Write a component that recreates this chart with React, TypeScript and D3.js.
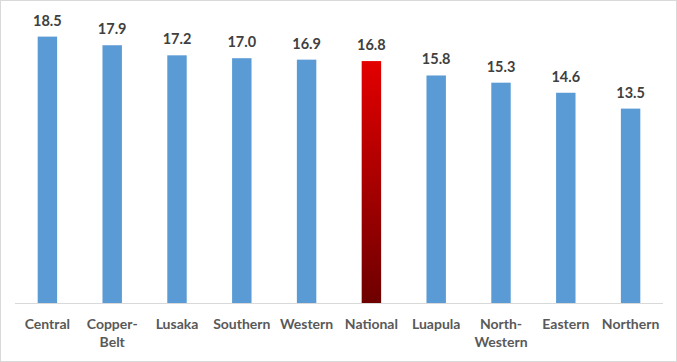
import React from "react";
import * as d3 from "d3";

const categories: string[][] = [
  ["Central"], ["Copper-", "Belt"], ["Lusaka"], ["Southern"], ["Western"],
  ["National"], ["Luapula"], ["North-", "Western"], ["Eastern"], ["Northern"],
];
const values: number[] = [18.5, 17.9, 17.2, 17.0, 16.9, 16.8, 15.8, 15.3, 14.6, 13.5];
const highlightIndex = 5;

const W = 677, H = 362;
const left = 15, right = 663, baseY = 303, topY = 15;

export default function App() {
  const x = d3.scaleBand<number>().domain(values.map((_, i) => i)).range([left, right]).paddingInner(0.7).paddingOuter(0.35);
  const y = d3.scaleLinear().domain([0, 20]).range([baseY, topY]);
  const font = "Lato, 'Open Sans', sans-serif";
  return (
    <svg width={W} height={H} style={{ position: "absolute", left: 0, top: 0 }}>
      <defs>
        <linearGradient id="natGrad" x1="0" y1="0" x2="0" y2="1">
          <stop offset="0%" stopColor="#e30000" />
          <stop offset="100%" stopColor="#6e0000" />
        </linearGradient>
      </defs>
      <rect x={0.5} y={0.5} width={W - 1} height={H - 1} fill="#fff" stroke="#d9d9d9" />
      {values.map((v, i) => (
        <rect key={i} x={x(i)} y={y(v)} width={x.bandwidth()} height={baseY - y(v)}
          fill={i === highlightIndex ? "url(#natGrad)" : "#5b9bd5"} />
      ))}
      <line x1={left} x2={right} y1={baseY + 0.5} y2={baseY + 0.5} stroke="#d9d9d9" />
      {values.map((v, i) => (
        <text key={i} x={x(i)! + x.bandwidth() / 2} y={y(v) - 11} textAnchor="middle"
          fontFamily={font} fontWeight="bold" fontSize={14.5} fill="#404040">{v.toFixed(1)}</text>
      ))}
      {categories.map((lines, i) => (
        <text key={i} x={x(i)! + x.bandwidth() / 2} y={329} textAnchor="middle"
          fontFamily={font} fontWeight="bold" fontSize={14} fill="#595959">
          {lines.map((l, j) => (
            <tspan key={j} x={x(i)! + x.bandwidth() / 2} dy={j === 0 ? 0 : 18}>{l}</tspan>
          ))}
        </text>
      ))}
    </svg>
  );
}
